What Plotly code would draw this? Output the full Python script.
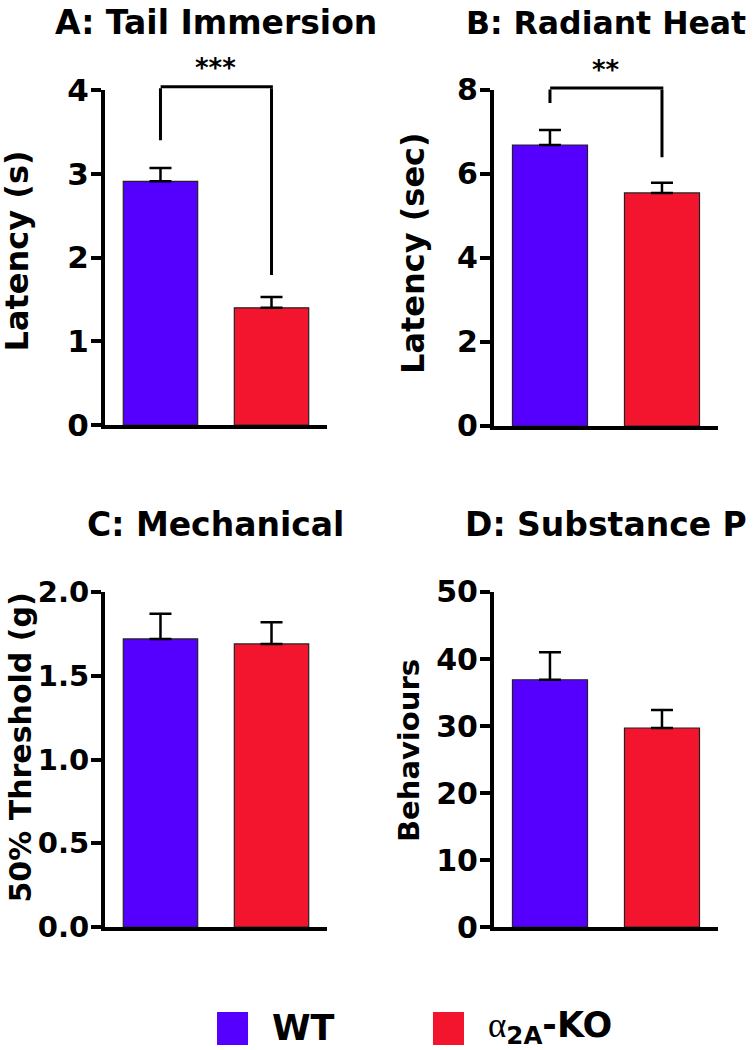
import plotly.graph_objects as go

# ---- data ----
GROUPS = ["WT", "α2A-KO"]
PANEL_TITLES = ["A: Tail Immersion", "B: Radiant Heat", "C: Mechanical", "D: Substance P"]
Y_TITLES = ["Latency (s)", "Latency (sec)", "50% Threshold (g)", "Behaviours"]

tail_mean = [2.91, 1.40]
tail_sem = [0.16, 0.13]
heat_mean = [6.69, 5.55]
heat_sem = [0.36, 0.24]
mech_mean = [1.72, 1.69]
mech_sem = [0.15, 0.13]
subp_mean = [36.9, 29.7]
subp_sem = [4.1, 2.7]

Y_MAX = [4, 8, 2, 50]
Y_DTICK = [1, 2, 0.5, 10]
Y_FORMAT = ["d", "d", ".1f", "d"]

# significance brackets: top, left arm end, right arm end, star height (data units)
tail_bracket = [4.04, 3.40, 1.79, 4.26]
heat_bracket = [8.05, 7.69, 6.40, 8.48]
tail_stars = "***"
heat_stars = "**"

PALETTE = {"wt": "#5500FF", "ko": "#F2152D", "ink": "#000000"}
FONT = "DejaVu Sans"

means = [tail_mean, heat_mean, mech_mean, subp_mean]
sems = [tail_sem, heat_sem, mech_sem, subp_sem]

# panel placement (paper fractions)
X_DOMS = [[0.1394, 0.4343], [0.6560, 0.9535], [0.1394, 0.4343], [0.6560, 0.9535]]
Y_DOMS = [[0.5952, 0.9143], [0.5943, 0.9143], [0.1171, 0.4362], [0.1171, 0.4362]]
TITLE_SIZE = [33, 31.5, 33, 33]
YTITLE_X = [0.0225, 0.5485, 0.0266, 0.5425]
YTITLE_SHIFT = [7, 5, 12, 9]
TICK_SIZE = [31, 30, 29, 30]
YTITLE_SIZE = [32, 32, 30, 29]

fig = go.Figure()
layout = dict(
    template="none",
    width=753, height=1050,
    margin=dict(l=0, r=0, t=0, b=0, autoexpand=False),
    paper_bgcolor="white", plot_bgcolor="white",
    showlegend=False,
    font=dict(family=FONT, color=PALETTE["ink"]),
)
annotations = []
shapes = []

for i in range(4):
    sfx = "" if i == 0 else str(i + 1)
    xa, ya = "x" + sfx, "y" + sfx
    fig.add_trace(go.Bar(
        x=[0, 1], y=means[i], width=0.67,
        marker=dict(color=[PALETTE["wt"], PALETTE["ko"]],
                    line=dict(color="#222222", width=1.2)),
        error_y=dict(type="data", array=sems[i], arrayminus=[0, 0], symmetric=False,
                     color=PALETTE["ink"], thickness=2.5, width=11),
        xaxis=xa, yaxis=ya, hoverinfo="skip",
    ))
    layout["xaxis" + sfx] = dict(
        domain=X_DOMS[i], anchor=ya, range=[-0.5, 1.5], automargin=False,
        showgrid=False, zeroline=False, showticklabels=False, ticks="",
        showline=True, linecolor=PALETTE["ink"], linewidth=4,
    )
    layout["yaxis" + sfx] = dict(
        domain=Y_DOMS[i], anchor=xa, range=[0, Y_MAX[i]], dtick=Y_DTICK[i],
        tickformat=Y_FORMAT[i], showgrid=False, zeroline=False, automargin=False,
        showline=True, linecolor=PALETTE["ink"], linewidth=4,
        ticks="outside", ticklen=10, tickwidth=4, tickcolor=PALETTE["ink"],
        ticklabelstandoff=-4,
        tickfont=dict(family=FONT, size=TICK_SIZE[i], weight="bold", color=PALETTE["ink"]),
    )
    annotations.append(dict(
        text=PANEL_TITLES[i], xref=xa + " domain", x=0.5, yref="paper",
        y=Y_DOMS[i][1] + 0.064, xanchor="center", yanchor="middle", showarrow=False,
        font=dict(family=FONT, size=TITLE_SIZE[i], weight="bold", color=PALETTE["ink"]),
    ))
    annotations.append(dict(
        text=Y_TITLES[i], xref="paper", x=YTITLE_X[i], yref=ya + " domain", y=0.5,
        yshift=YTITLE_SHIFT[i], textangle=-90, xanchor="center", yanchor="middle",
        showarrow=False,
        font=dict(family=FONT, size=YTITLE_SIZE[i], weight="bold", color=PALETTE["ink"]),
    ))

# significance brackets: x in data units, y as a fraction of the axis range
# (domain refs keep them visible above the top of the y range)
for sfx, ymax, br, stars in [("", Y_MAX[0], tail_bracket, tail_stars),
                             ("2", Y_MAX[1], heat_bracket, heat_stars)]:
    top, left, right, star_y = [v / ymax for v in br]
    yref = "y" + sfx + " domain"
    segs = [((0, top), (0, left)), ((-0.012, top), (1.012, top)), ((1, top), (1, right))]
    for (x0, y0), (x1, y1) in segs:
        annotations.append(dict(
            x=x1, y=y1, ax=x0, ay=y0, xref="x" + sfx, yref=yref,
            axref="x" + sfx, ayref=yref, text="", showarrow=True,
            arrowhead=0, arrowwidth=3, arrowcolor=PALETTE["ink"],
            standoff=0, startstandoff=0,
        ))
    annotations.append(dict(
        x=0.5, y=star_y, xref="x" + sfx, yref=yref, text=stars,
        showarrow=False, xanchor="center", yanchor="middle",
        font=dict(family=FONT, size=26, weight="bold", color=PALETTE["ink"]),
    ))

# legend row
legend_items = [
    (PALETTE["wt"], 0.2882, GROUPS[0]),
    (PALETTE["ko"], 0.5750,
     "<span style='font-family:Liberation Serif;font-weight:normal'>α</span>"
     "<sub>2A</sub>-KO"),
]
for color, x0, label in legend_items:
    shapes.append(dict(type="rect", xref="paper", yref="paper",
                       x0=x0, x1=x0 + 0.0412, y0=0.0048, y1=0.0362,
                       fillcolor=color, line=dict(width=0)))
    annotations.append(dict(
        text=label, xref="paper", yref="paper", x=x0 + 0.071, y=0.021,
        xanchor="left", yanchor="middle", showarrow=False,
        font=dict(family=FONT, size=35, weight="bold", color=PALETTE["ink"]),
    ))

layout["annotations"] = annotations
layout["shapes"] = shapes
fig.update_layout(**layout)
# drop the default page margin so the 753x1050 figure fills the window exactly
fig.write_html("out.html", config={"displayModeBar": False},
               post_script="document.body.style.margin = '0';")
